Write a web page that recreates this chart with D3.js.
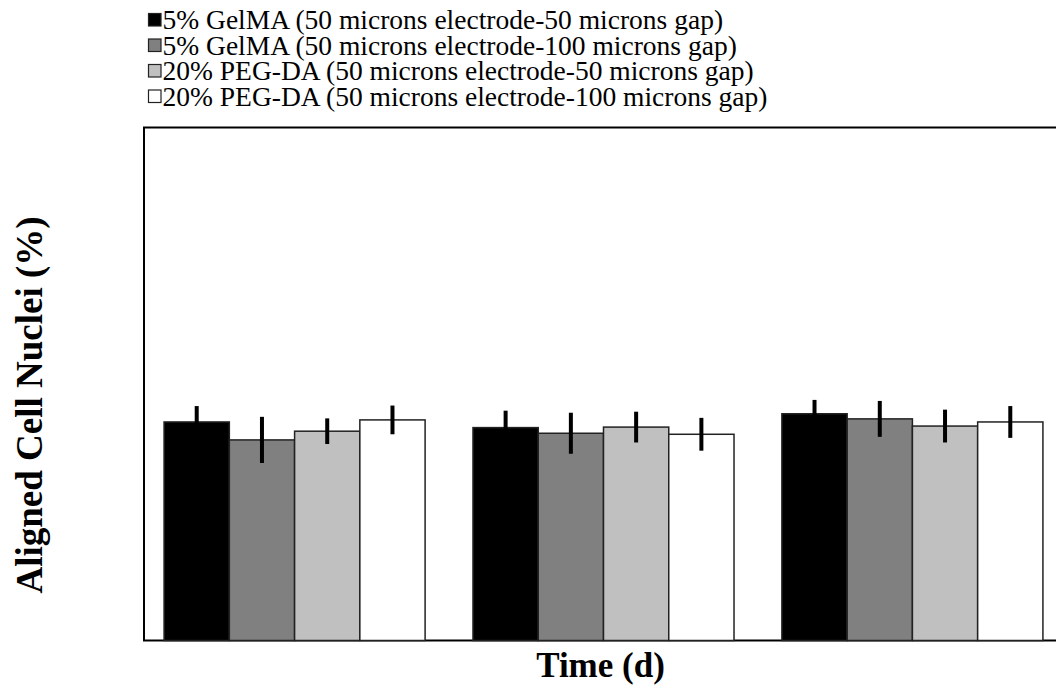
<!DOCTYPE html>
<html>
<head>
<meta charset="utf-8">
<script src="https://cdn.jsdelivr.net/npm/d3@7"></script>
<style>
  body { margin: 0; background: #fff; }
  svg { display: block; font-family: "Liberation Serif", "Times New Roman", serif; }
</style>
</head>
<body>
<script>
//Data

var groups = ["T1", "T2", "T3"];
var series = [
  "5% GelMA (50 microns electrode-50 microns gap)",
  "5% GelMA (50 microns electrode-100 microns gap)",
  "20% PEG-DA (50 microns electrode-50 microns gap)",
  "20% PEG-DA (50 microns electrode-100 microns gap)"
];
var colors = ["#000000", "#808080", "#c0c0c0", "#ffffff"];

// mean values, one row per series, one column per time point
var means = [
  [42.6, 41.5, 44.2],
  [39.1, 40.4, 43.2],
  [40.8, 41.6, 41.8],
  [43.0, 40.2, 42.6]
];
var errors = [
  [3.1, 3.3, 2.7],
  [4.5, 4.0, 3.5],
  [2.5, 3.0, 3.2],
  [2.8, 3.2, 3.1]
];

//Layout

var W = 1056, H = 688;
var plotLeft = 144, plotRight = 1063, plotTop = 127.5, plotBottom = 640.5;

var svg = d3.select("body").append("svg")
  .attr("width", W)
  .attr("height", H);

var x0 = d3.scaleBand().domain(groups).range([plotLeft, plotRight])
  .paddingInner(0.155).paddingOuter(0.065);
var x1 = d3.scaleBand().domain(d3.range(series.length)).range([0, x0.bandwidth()]);
var y = d3.scaleLinear().domain([0, 100]).range([plotBottom, plotTop]);

//flatten into bar records
var bars = [];
series.forEach(function(s, i){
  groups.forEach(function(g, j){
    bars.push({s: i, g: g, v: means[i][j], e: errors[i][j]});
  });
});

//frame
svg.append("rect")
  .attr("x", plotLeft).attr("y", plotTop)
  .attr("width", plotRight - plotLeft).attr("height", plotBottom - plotTop)
  .attr("fill", "none").attr("stroke", "#000").attr("stroke-width", 2);

//bars
svg.append("g").selectAll("rect")
  .data(bars)
  .enter()
  .append("rect")
    .attr("x", function(d){ return x0(d.g) + x1(d.s); })
    .attr("y", function(d){ return y(d.v); })
    .attr("width", x1.bandwidth())
    .attr("height", function(d){ return y(0) - y(d.v); })
    .attr("fill", function(d){ return colors[d.s]; })
    .attr("stroke", "#222")
    .attr("stroke-width", 1.5);

//error bars
svg.append("g").selectAll("line")
  .data(bars)
  .enter()
  .append("line")
    .attr("x1", function(d){ return x0(d.g) + x1(d.s) + x1.bandwidth()/2; })
    .attr("x2", function(d){ return x0(d.g) + x1(d.s) + x1.bandwidth()/2; })
    .attr("y1", function(d){ return y(d.v + d.e); })
    .attr("y2", function(d){ return y(d.v - d.e); })
    .attr("stroke", "#000")
    .attr("stroke-width", 4);

//legend
var legend = svg.append("g").attr("transform", "translate(148,0)");
var rows = legend.selectAll("g")
  .data(series)
  .enter()
  .append("g")
    .attr("transform", function(d, i){ return "translate(0," + (20 + i*25.5) + ")"; });

rows.append("rect")
  .attr("x", 0.5).attr("y", -6.5)
  .attr("width", 12.5).attr("height", 12.5)
  .attr("fill", function(d, i){ return colors[i]; })
  .attr("stroke", "#222")
  .attr("stroke-width", 1.2);

rows.append("text")
  .attr("x", 14.5)
  .attr("y", 9)
  .attr("font-size", 27.5)
  .text(function(d){ return d; });

//axis titles
svg.append("text")
  .attr("x", (plotLeft + plotRight)/2 - 3)
  .attr("y", 677)
  .attr("text-anchor", "middle")
  .attr("font-size", 35)
  .attr("font-weight", "bold")
  .text("Time (d)");

svg.append("text")
  .attr("transform", "translate(42,405) rotate(-90)")
  .attr("text-anchor", "middle")
  .attr("font-size", 37)
  .attr("font-weight", "bold")
  .text("Aligned Cell Nuclei (%)");
</script>
</body>
</html>
